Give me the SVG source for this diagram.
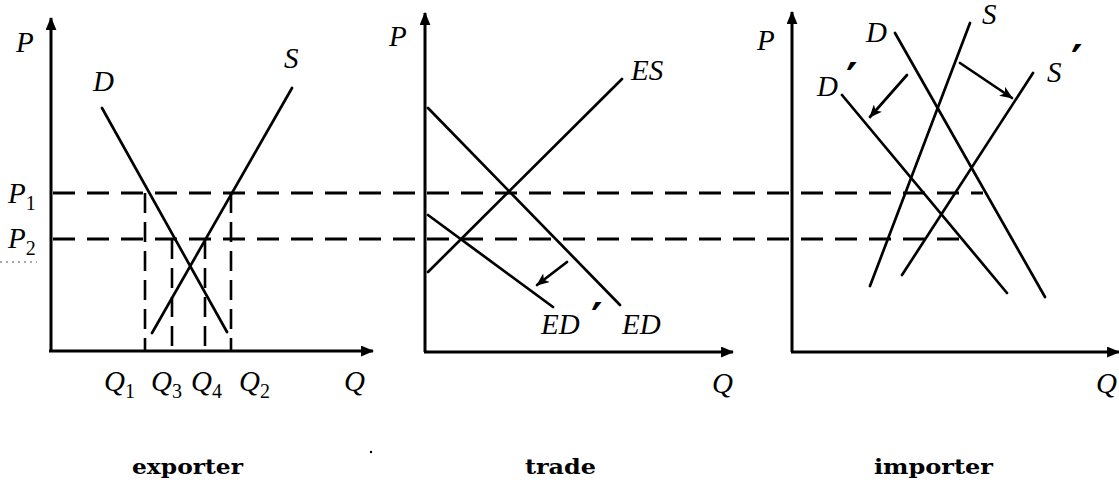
<svg xmlns="http://www.w3.org/2000/svg" width="1119" height="488" viewBox="0 0 1119 488">
<style>
.ax{stroke:#000;stroke-width:3;fill:none}
.cv{stroke:#000;stroke-width:2.7;fill:none;stroke-linecap:round}
.dh{stroke:#000;stroke-width:3;fill:none;stroke-dasharray:22 12}
.dv{stroke:#000;stroke-width:2.6;fill:none;stroke-dasharray:20 9}
.m{font-family:"Liberation Serif","DejaVu Serif",serif;font-style:italic;font-size:29px;fill:#000}
.sub{font-style:normal;font-size:20px}
.pr{font-family:"DejaVu Sans",sans-serif;font-style:normal;font-weight:bold;font-size:44px;fill:#000}
.lb{font-family:"DejaVu Serif",serif;font-weight:bold;font-size:21px;fill:#000}
</style>
<defs>
<marker id="ah" viewBox="0 0 12 10" refX="11" refY="5" markerWidth="13" markerHeight="11" markerUnits="userSpaceOnUse" orient="auto">
<path d="M0,0 L12,5 L0,10 Z" fill="#000"/>
</marker>
<marker id="sh" viewBox="0 0 12 10" refX="11" refY="5" markerWidth="13" markerHeight="11" markerUnits="userSpaceOnUse" orient="auto">
<path d="M0,0 L12,5 L0,10 L3,5 Z" fill="#000"/>
</marker>
</defs>
<rect width="1119" height="488" fill="#fff"/>

<g id="connectors">
<line class="dh" x1="53" y1="193" x2="983" y2="193"/>
<line class="dh" x1="53" y1="239" x2="960" y2="239"/>
<line class="dv" x1="145" y1="193" x2="145" y2="350"/>
<line class="dv" x1="172" y1="239" x2="172" y2="350"/>
<line class="dv" x1="205" y1="239" x2="205" y2="350"/>
<line class="dv" x1="231" y1="193" x2="231" y2="350"/>
<line x1="0" y1="262" x2="37" y2="262" stroke="#555" stroke-width="1" stroke-dasharray="2 4"/>
</g>

<g id="exporter">
<line class="ax" x1="51" y1="351" x2="51" y2="18" marker-end="url(#ah)"/>
<line class="ax" x1="49" y1="351" x2="373" y2="351" marker-end="url(#ah)"/>
<line class="cv" x1="102" y1="108" x2="227" y2="332"/>
<line class="cv" x1="152" y1="333" x2="292" y2="88"/>
<text class="m" x="16" y="52">P</text>
<text class="m" x="93" y="91">D</text>
<text class="m" x="284" y="68">S</text>
<text class="m" x="8" y="203">P<tspan class="sub" dy="7">1</tspan></text>
<text class="m" x="8" y="248">P<tspan class="sub" dy="7">2</tspan></text>
<text class="m" x="104" y="391">Q<tspan class="sub" dy="7">1</tspan></text>
<text class="m" x="151" y="391">Q<tspan class="sub" dy="7">3</tspan></text>
<text class="m" x="191" y="391">Q<tspan class="sub" dy="7">4</tspan></text>
<text class="m" x="239" y="391">Q<tspan class="sub" dy="7">2</tspan></text>
<text class="m" x="344" y="391">Q</text>
<text class="lb" x="132" y="474" textLength="111" lengthAdjust="spacingAndGlyphs">exporter</text>
</g>

<g id="trade">
<line class="ax" x1="425" y1="352" x2="425" y2="13" marker-end="url(#ah)"/>
<line class="ax" x1="424" y1="352" x2="733" y2="352" marker-end="url(#ah)"/>
<line class="cv" x1="428" y1="272" x2="622" y2="79"/>
<line class="cv" x1="428" y1="108" x2="620" y2="305"/>
<line class="cv" x1="428" y1="215" x2="553" y2="307"/>
<line class="cv" x1="567" y1="262" x2="537" y2="285" stroke-width="2.2" marker-end="url(#sh)"/>
<text class="m" x="389" y="46">P</text>
<text class="m" x="631" y="80">ES</text>
<text class="m" x="541" y="334">ED<tspan class="pr" x="591" y="335">′</tspan></text>
<text class="m" x="622" y="334">ED</text>
<text class="m" x="712" y="393">Q</text>
<text class="lb" x="525" y="474" textLength="71" lengthAdjust="spacingAndGlyphs">trade</text>
</g>

<g id="importer">
<line class="ax" x1="792" y1="352" x2="792" y2="12" marker-end="url(#ah)"/>
<line class="ax" x1="791" y1="352" x2="1119" y2="352" marker-end="url(#ah)"/>
<line class="cv" x1="895" y1="33" x2="1045" y2="297"/>
<line class="cv" x1="970" y1="23" x2="870" y2="286"/>
<line class="cv" x1="842" y1="95" x2="1007" y2="293"/>
<line class="cv" x1="1033" y1="73" x2="902" y2="275"/>
<line class="cv" x1="907" y1="75" x2="870" y2="117" marker-end="url(#sh)"/>
<line class="cv" x1="960" y1="63" x2="1012" y2="98" marker-end="url(#sh)"/>
<text class="m" x="757" y="50">P</text>
<text class="m" x="866" y="42">D</text>
<text class="m" x="982" y="24">S</text>
<text class="m" x="817" y="96">D<tspan class="pr" x="846" y="95">′</tspan></text>
<text class="m" x="1047" y="82">S<tspan class="pr" x="1071" y="77">′</tspan></text>
<text class="m" x="1096" y="393">Q</text>
<text class="lb" x="874" y="474" textLength="119" lengthAdjust="spacingAndGlyphs">importer</text>
</g>
<circle cx="371" cy="452" r="1.2" fill="#000"/>
</svg>
